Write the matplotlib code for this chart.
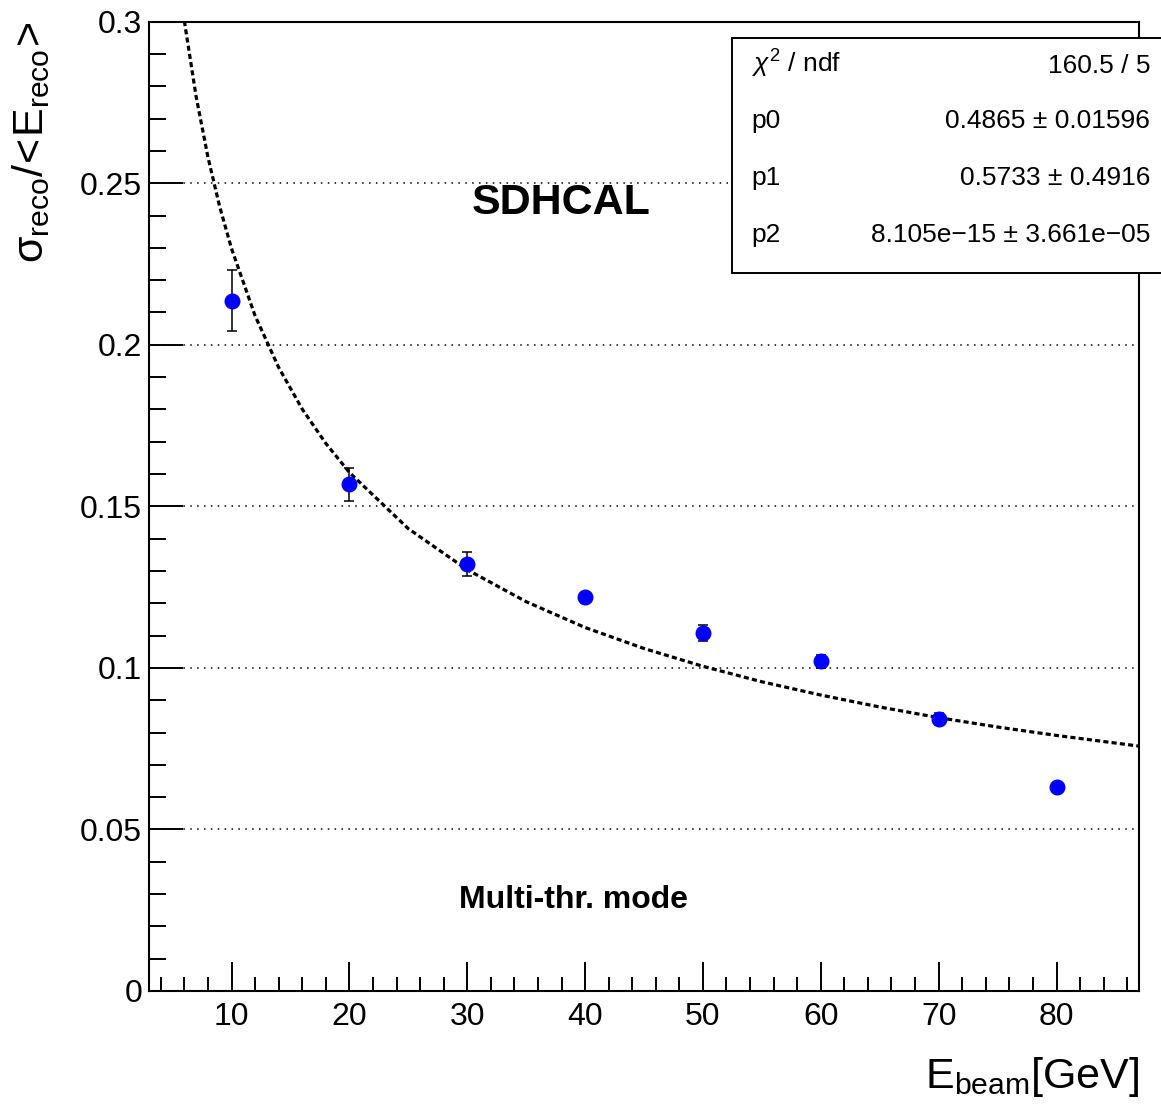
import matplotlib as mpl
import matplotlib.pyplot as plt
from matplotlib.patches import Rectangle
from matplotlib.ticker import FixedLocator, MultipleLocator


# measured points
beam_energy = [10, 20, 30, 40, 50, 60, 70, 80]
resolution = [0.2137, 0.1568, 0.1321, 0.1220, 0.1107, 0.1021, 0.0842, 0.0632]
resolution_err = [0.0093, 0.0050, 0.0037, 0.0012, 0.0025, 0.0020, 0.0018, 0.0010]

# fitted curve
fit_energy = [6, 7, 8, 9, 10, 12, 14, 16, 18, 20, 25, 30, 35, 40, 45, 50,
              55, 60, 65, 70, 75, 80, 87]
fit_resolution = [0.3002, 0.2768, 0.2581, 0.2427, 0.2298, 0.2090, 0.1930,
                  0.1801, 0.1695, 0.1605, 0.1431, 0.1304, 0.1205, 0.1125,
                  0.1060, 0.1005, 0.0957, 0.0916, 0.0879, 0.0846, 0.0817,
                  0.0791, 0.0758]

x_ticks = [10, 20, 30, 40, 50, 60, 70, 80]
y_ticks = [0, 0.05, 0.1, 0.15, 0.2, 0.25, 0.3]
y_tick_labels = ["0", "0.05", "0.1", "0.15", "0.2", "0.25", "0.3"]

stats_names = [r"$\chi^{2}$ / ndf", "p0", "p1", "p2"]
stats_values = ["160.5 / 5", "0.4865 \u00b1 0.01596", "0.5733 \u00b1 0.4916",
                "8.105e\u221215 \u00b1 3.661e\u221205"]

W, H = 1161, 1105


def main():
    mpl.rcParams.update(
        {
            "font.family": ["Liberation Sans", "DejaVu Sans"],
            "mathtext.fontset": "custom",
            "mathtext.rm": "Liberation Sans",
            "mathtext.it": "Liberation Sans:italic",
            "mathtext.bf": "Liberation Sans:bold",
        }
    )

    fig = plt.figure(figsize=(W / 100, H / 100), dpi=100)
    fig.patch.set_facecolor("white")
    ax = fig.add_axes([149 / W, 1 - 991 / H, (1139 - 149) / W, (991 - 21.7) / H])

    ax.set_xlim(3, 87)
    ax.set_ylim(0, 0.3)

    for y in y_ticks[1:-1]:
        ax.axhline(y, color="black", lw=1.1, ls=(0, (1, 3.5)), zorder=1)

    ax.plot(fit_energy, fit_resolution, color="black", lw=2.3,
            ls=(0, (1.6, 1.0)), zorder=2, clip_on=True)
    ax.errorbar(beam_energy, resolution, yerr=resolution_err, fmt="o",
                color="#0000ff", ms=10.5, mec="#0000ff", ecolor="black",
                elinewidth=1.1, capsize=3.6, capthick=1.1, zorder=3)

    for side in ax.spines.values():
        side.set_linewidth(1.5)

    ax.xaxis.set_major_locator(FixedLocator(x_ticks))
    ax.xaxis.set_minor_locator(FixedLocator([v for v in range(4, 87, 2) if v % 10]))
    ax.yaxis.set_major_locator(FixedLocator(y_ticks))
    ax.yaxis.set_minor_locator(MultipleLocator(0.01))
    ax.set_yticklabels(y_tick_labels)

    ax.tick_params(axis="both", which="both", direction="in", width=1.4,
                   labelsize=23, top=False, right=False)
    ax.tick_params(axis="x", which="major", length=20.6, pad=8)
    ax.tick_params(axis="x", which="minor", length=10.3)
    ax.tick_params(axis="y", which="major", length=24.5, pad=5)
    ax.tick_params(axis="y", which="minor", length=12)

    ax.text(1.0, -0.1004, r"$\mathrm{E_{beam}[GeV]}$", transform=ax.transAxes,
            ha="right", va="baseline", fontsize=31)
    fig.text(43 / W, 1 - 21.7 / H,
             r"$\mathrm{\sigma_{reco}/\!<\!E_{reco}\!>}$",
             rotation=90, rotation_mode="anchor", ha="right", va="baseline",
             fontsize=31)

    ax.text(0.326, 0.802, "SDHCAL", transform=ax.transAxes, ha="left",
            va="baseline", fontsize=31, fontweight="bold")
    ax.text(0.313, 0.0853, "Multi-thr. mode", transform=ax.transAxes,
            ha="left", va="baseline", fontsize=23, fontweight="bold")

    # stats box
    x0, y0, y1 = 731.7, 38.3, 273.3
    fig.patches.append(
        Rectangle((x0 / W, 1 - y1 / H), (W + 10 - x0) / W, (y1 - y0) / H,
                  transform=fig.transFigure, fc="white", ec="black", lw=1.4,
                  zorder=5)
    )
    rows_y = [73, 128, 185, 241.7]
    for name, val, y in zip(stats_names, stats_values, rows_y):
        fig.text(751.7 / W, 1 - y / H, name, ha="left", va="baseline",
                 fontsize=19, zorder=6)
        fig.text(1150 / W, 1 - y / H, val, ha="right", va="baseline",
                 fontsize=19, zorder=6)

    fig.savefig("out.png", dpi=100)
    plt.close(fig)


if __name__ == "__main__":
    main()
